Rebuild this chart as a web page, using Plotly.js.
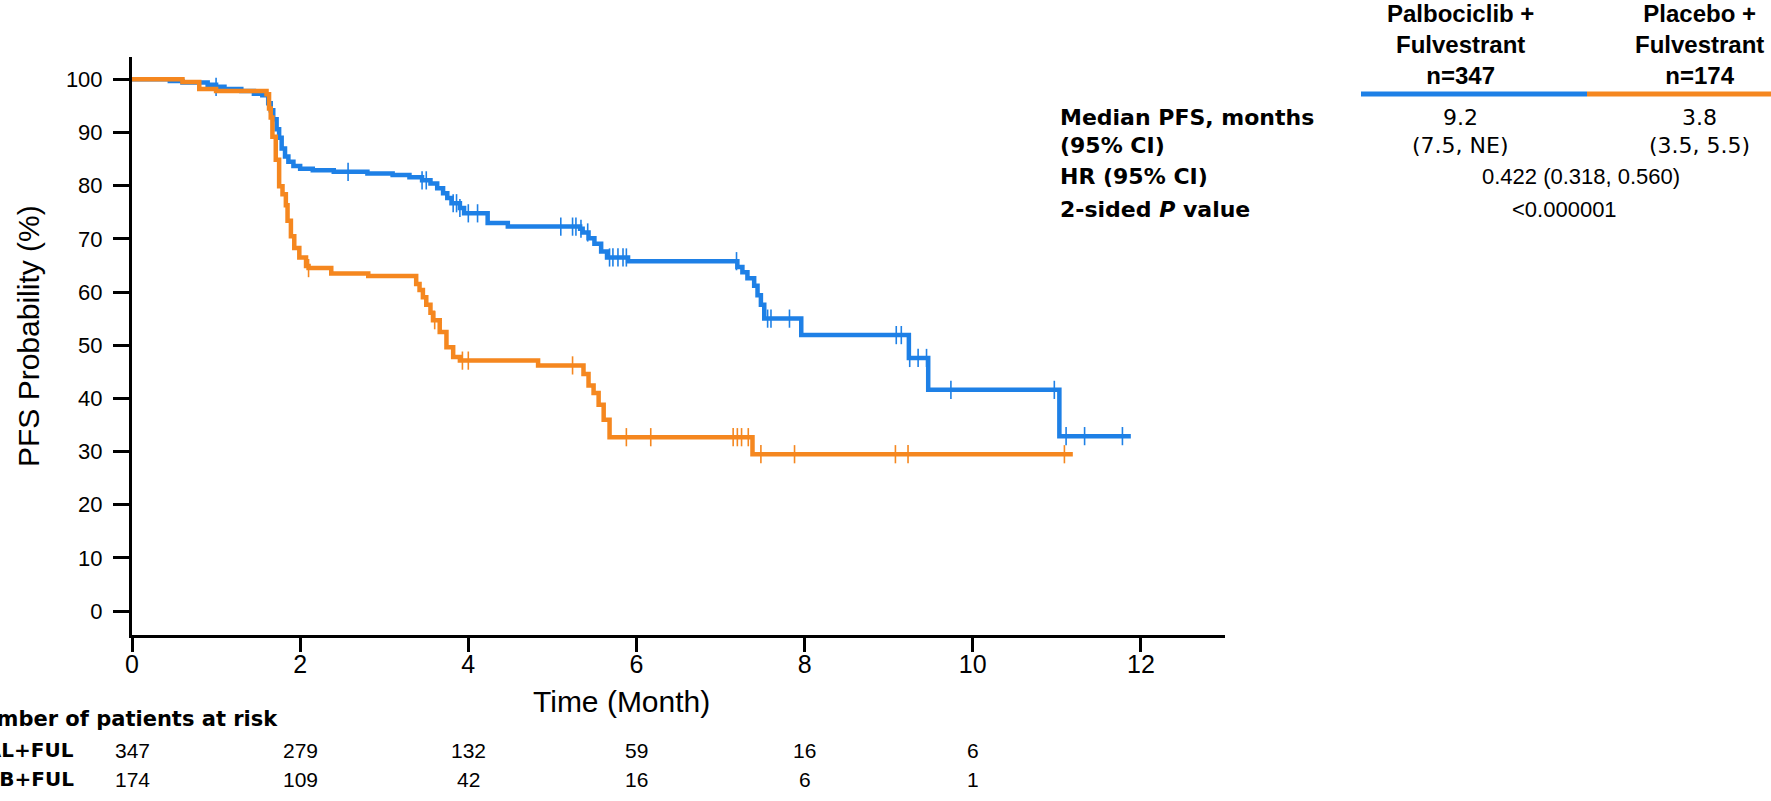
<!DOCTYPE html>
<html>
<head>
<meta charset="utf-8">
<script src="https://cdn.plot.ly/plotly-3.0.1.min.js"></script>
<style>
  html, body { margin: 0; padding: 0; background: #ffffff; }
  #chart { width: 1771px; height: 801px; }
</style>
</head>
<body>
<div id="chart"></div>
<script>
// ---------------- DATA ----------------
// Palbociclib + Fulvestrant (KM step points: time in months, PFS %)
const palTime = [0, 0.45, 0.6, 0.9, 1.0, 1.1, 1.3, 1.45, 1.55,
  1.62, 1.65, 1.68, 1.72, 1.75, 1.78, 1.82, 1.86, 1.92, 2.0, 2.15, 2.4, 2.8, 3.1, 3.3,
  3.45, 3.55, 3.63, 3.7, 3.75, 3.8, 3.9, 3.95, 4.23, 4.47, 5.33, 5.36, 5.43, 5.5, 5.58,
  5.65, 5.9, 7.2, 7.26, 7.32, 7.4, 7.44, 7.48, 7.52, 7.96, 9.24, 9.47, 11.03, 11.88];
const palSurv = [100, 99.7, 99.4, 99.0, 98.6, 98.2, 97.8, 97.3, 97.0,
  95.5, 94.2, 92.5, 90.6, 89.0, 87.0, 85.5, 84.5, 83.7, 83.2, 82.9, 82.6, 82.3, 82.0, 81.6,
  81.0, 80.4, 79.5, 78.6, 77.7, 76.7, 75.8, 74.8, 73.0, 72.3, 71.9, 71.2, 70.1, 69.1, 67.6,
  66.5, 65.8, 64.7, 63.7, 62.6, 61.2, 59.4, 57.6, 55.0, 51.9, 47.6, 41.6, 32.9, 32.9];
const palCensor = [1.0, 2.57, 3.45, 3.5, 3.82, 3.86, 3.9, 4.0, 4.11, 5.1, 5.24, 5.28, 5.34,
  5.42, 5.68, 5.72, 5.78, 5.84, 5.88, 7.19, 7.56, 7.6, 7.82, 9.09, 9.15, 9.25, 9.35, 9.45,
  9.74, 10.97, 11.11, 11.33, 11.78];

// Placebo + Fulvestrant
const pcbTime = [0, 0.6, 0.8, 1.0, 1.6, 1.63, 1.65, 1.67, 1.71, 1.75, 1.79, 1.83, 1.85, 1.89,
  1.93, 1.99, 2.07, 2.1, 2.37, 2.81, 3.38, 3.42, 3.46, 3.5, 3.55, 3.58, 3.66, 3.74, 3.82, 3.9,
  4.83, 5.37, 5.43, 5.49, 5.55, 5.61, 5.68, 7.38, 11.19];
const pcbSurv = [100, 99.5, 98.2, 97.8, 97.2, 94.5, 92.8, 89.2, 84.9, 79.9, 78.4, 76.3, 73.4, 70.5,
  68.3, 66.5, 64.9, 64.5, 63.5, 63.0, 61.5, 60.4, 59.0, 57.6, 56.1, 54.7, 52.5, 49.6, 47.8, 47.1,
  46.2, 44.6, 42.4, 41.0, 38.8, 36.0, 32.7, 29.5, 29.5];
const pcbCensor = [2.1, 3.6, 3.93, 4.0, 5.24, 5.88, 6.17, 7.15, 7.2, 7.25, 7.33, 7.48, 7.88,
  9.08, 9.23, 11.09];

// Axis ticks
const xTicks = [0, 2, 4, 6, 8, 10, 12];
const yTicks = [0, 10, 20, 30, 40, 50, 60, 70, 80, 90, 100];

// Number at risk
const riskTimes = [0, 2, 4, 6, 8, 10];
const riskPal = [347, 279, 132, 59, 16, 6];
const riskPcb = [174, 109, 42, 16, 6, 1];
const riskLabels = ["PAL+FUL", "PCB+FUL"];

// Summary table
const armHeaders = ["Palbociclib +<br>Fulvestrant<br>n=347", "Placebo +<br>Fulvestrant<br>n=174"];
const medianPFS = ["9.2", "3.8"];
const medianCI = ["(7.5, NE)", "(3.5, 5.5)"];
const hrText = "0.422 (0.318, 0.560)";
const pText = "<0.000001";

// ---------------- STYLE / LAYOUT ----------------
const BLUE = "#1e80e6";
const ORANGE = "#f5871f";
const SANS = "Liberation Sans, Arial, sans-serif";
const WIDE = "DejaVu Sans, Verdana, sans-serif";

const W = 1771, H = 801;
const M = { l: 132, r: 546, t: 57, b: 166 };
const PW = W - M.l - M.r, PH = H - M.t - M.b;
const px = x => (x - M.l) / PW;          // page px -> paper x
const py = y => (H - M.b - y) / PH;       // page px -> paper y

function stepAt(times, vals, t) {
  let v = vals[0];
  for (let i = 0; i < times.length; i++) { if (times[i] <= t) v = vals[i]; else break; }
  return v;
}

const traces = [
  { x: palTime, y: palSurv, type: "scatter", mode: "lines", line: { shape: "hv", color: BLUE, width: 4.5 },
    name: "Palbociclib + Fulvestrant", hoverinfo: "skip" },
  { x: palCensor, y: palCensor.map(t => stepAt(palTime, palSurv, t)), type: "scatter", mode: "markers",
    marker: { symbol: "line-ns-open", size: 13, color: BLUE, line: { color: BLUE, width: 1.6 } }, hoverinfo: "skip" },
  { x: pcbTime, y: pcbSurv, type: "scatter", mode: "lines", line: { shape: "hv", color: ORANGE, width: 4.5 },
    name: "Placebo + Fulvestrant", hoverinfo: "skip" },
  { x: pcbCensor, y: pcbCensor.map(t => stepAt(pcbTime, pcbSurv, t)), type: "scatter", mode: "markers",
    marker: { symbol: "line-ns-open", size: 13, color: ORANGE, line: { color: ORANGE, width: 1.6 } }, hoverinfo: "skip" }
];

const ann = [];
// axis titles
ann.push({ xref: "x", yref: "paper", x: 5.82, y: py(701), text: "Time (Month)", showarrow: false,
  xanchor: "center", yanchor: "middle", font: { family: SANS, size: 30, color: "#000" } });
ann.push({ xref: "paper", yref: "paper", x: px(28), y: py(336), text: "PFS Probability (%)", showarrow: false,
  textangle: -90, xanchor: "center", yanchor: "middle", font: { family: SANS, size: 30, color: "#000" } });

// number at risk
ann.push({ xref: "paper", yref: "paper", x: px(280), y: py(719), text: "<b>Number of patients at risk</b>",
  showarrow: false, xanchor: "right", yanchor: "middle", font: { family: WIDE, size: 21, color: "#000" } });
[riskPal, riskPcb].forEach((row, r) => {
  const yy = py([750, 779][r]);
  ann.push({ xref: "paper", yref: "paper", x: px(76), y: yy, text: "<b>" + riskLabels[r] + "</b>", showarrow: false,
    xanchor: "right", yanchor: "middle", font: { family: WIDE, size: 20, color: "#000" } });
  row.forEach((v, i) => {
    ann.push({ xref: "x", yref: "paper", x: riskTimes[i], y: yy, text: String(v), showarrow: false,
      xanchor: "center", yanchor: "middle", font: { family: SANS, size: 21, color: "#000" } });
  });
});

// summary table
const colX = [1460, 1699];
armHeaders.forEach((h, i) => {
  ann.push({ xref: "paper", yref: "paper", x: px(colX[i]), y: py(45), text: "<b>" + h + "</b>", showarrow: false,
    xanchor: "center", yanchor: "middle", align: "center", font: { family: SANS, size: 24, color: "#000" } });
  ann.push({ xref: "paper", yref: "paper", x: px(colX[i]), y: py(117), text: medianPFS[i], showarrow: false,
    xanchor: "center", yanchor: "middle", font: { family: WIDE, size: 22, color: "#000" } });
  ann.push({ xref: "paper", yref: "paper", x: px(colX[i]), y: py(145), text: medianCI[i], showarrow: false,
    xanchor: "center", yanchor: "middle", font: { family: WIDE, size: 22, color: "#000" } });
});
const rowLabels = ["<b>Median PFS, months</b>", "<b>(95% CI)</b>", "<b>HR (95% CI)</b>", "<b>2-sided <i>P</i> value</b>"];
const rowY = [117, 145, 177, 209];
rowLabels.forEach((t, i) => {
  ann.push({ xref: "paper", yref: "paper", x: px(1058), y: py(rowY[i]), text: t, showarrow: false,
    xanchor: "left", yanchor: "middle", font: { family: WIDE, size: 22, color: "#000" } });
});
ann.push({ xref: "paper", yref: "paper", x: px(1581), y: py(177), text: hrText, showarrow: false,
  xanchor: "center", yanchor: "middle", font: { family: SANS, size: 22, color: "#000" } });
ann.push({ xref: "paper", yref: "paper", x: px(1564), y: py(209), text: pText.replace("<", "&lt;"), showarrow: false,
  xanchor: "center", yanchor: "middle", font: { family: SANS, size: 22, color: "#000" } });

const shapes = [
  { type: "line", xref: "paper", yref: "paper", x0: px(1361), x1: px(1587), y0: py(94), y1: py(94),
    line: { color: BLUE, width: 5 } },
  { type: "line", xref: "paper", yref: "paper", x0: px(1587), x1: px(1771), y0: py(94), y1: py(94),
    line: { color: ORANGE, width: 5 } }
];

const layout = {
  width: W, height: H,
  margin: M,
  paper_bgcolor: "#fff", plot_bgcolor: "#fff",
  showlegend: false,
  xaxis: {
    range: [0, 13], tickvals: xTicks, ticktext: xTicks.map(String),
    showline: true, linecolor: "#000", linewidth: 3, showgrid: false, zeroline: false,
    ticks: "outside", ticklen: 14, tickwidth: 3, tickcolor: "#000", ticklabelstandoff: -9,
    tickfont: { family: SANS, size: 25, color: "#000" }
  },
  yaxis: {
    range: [-4.5, 104.2], tickvals: yTicks, ticktext: yTicks.map(String),
    showline: true, linecolor: "#000", linewidth: 3, showgrid: false, zeroline: false,
    ticks: "outside", ticklen: 16, tickwidth: 3, tickcolor: "#000", ticklabelstandoff: 6,
    tickfont: { family: SANS, size: 22, color: "#000" }
  },
  annotations: ann,
  shapes: shapes
};

Plotly.newPlot("chart", traces, layout, { displayModeBar: false, staticPlot: true });
</script>
</body>
</html>
